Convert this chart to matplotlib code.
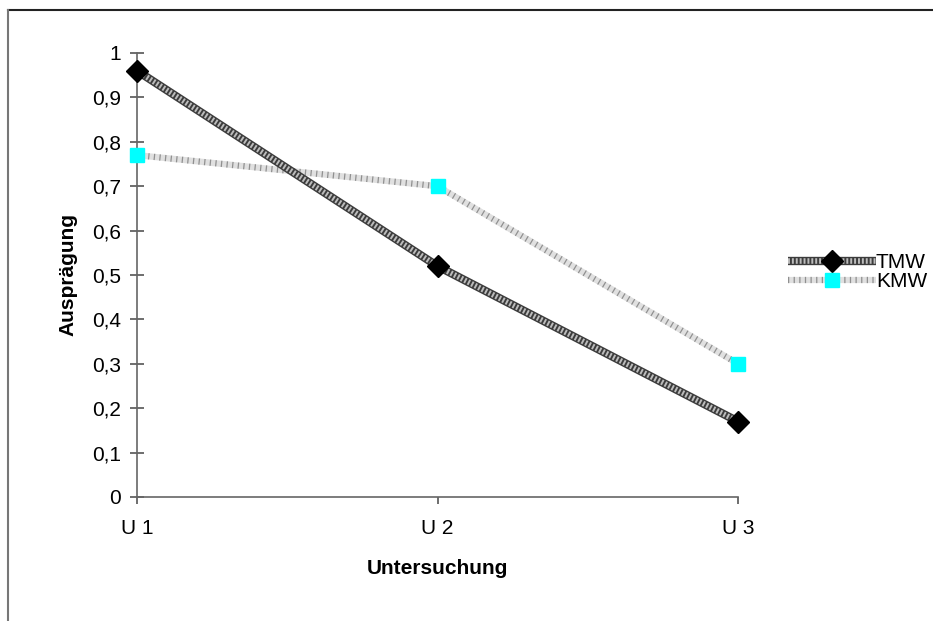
import numpy as np
import matplotlib.pyplot as plt
from matplotlib.lines import Line2D
from matplotlib.legend_handler import HandlerTuple

# DATA:
# ==================================================================
labels = ['U 1', 'U 2', 'U 3']
tmw    = [0.96, 0.52, 0.17]
kmw    = [0.77, 0.70, 0.30]
yticks = [0, 0.1, 0.2, 0.3, 0.4, 0.5, 0.6, 0.7, 0.8, 0.9, 1]

plt.rcParams['font.family'] = ['Liberation Sans', 'DejaVu Sans']

# MAKE PLOT:
# ==================================================================
fig = plt.figure(figsize=(9.33, 6.21), dpi=100)
ax  = fig.add_axes([137/933, 1-497/621, (738-137)/933, (497-53)/621])

x = np.arange(len(labels))

# TMW: hatched dark line
t1, = ax.plot(x, tmw, color='#3c3c3c', lw=6, solid_capstyle='butt', zorder=3, clip_on=False)
t2, = ax.plot(x, tmw, color='#bcbcbc', lw=4, ls=(0, (0.35, 0.35)), dash_capstyle='butt',
              zorder=3.1, clip_on=False)
t3, = ax.plot(x, tmw, ls='none', marker='D', ms=11, mfc='black', mec='black',
              zorder=4, clip_on=False)

# KMW: dotted light line
k1, = ax.plot(x, kmw, color='#e0e0e0', lw=4.5, solid_capstyle='butt', zorder=2, clip_on=False)
k2, = ax.plot(x, kmw, color='#909090', lw=4.5, ls=(0, (0.2, 0.7)), dash_capstyle='butt',
              zorder=2.1, clip_on=False)
k3, = ax.plot(x, kmw, ls='none', marker='s', ms=10.5, mfc='#00ffff', mec='#00ffff',
              zorder=4, clip_on=False)

ax.set_xlim(0, 2)
ax.set_ylim(0, 1)
ax.set_xticks(x)
ax.set_xticklabels(labels)
ax.set_yticks(yticks)
ax.set_yticklabels([('%g' % v).replace('.', ',') for v in yticks])
ax.tick_params(axis='both', labelsize=15, color='#555555', width=1.2)
ax.tick_params(axis='y', direction='inout', length=9.5, pad=7)
ax.tick_params(axis='x', direction='out', length=5, pad=11)

for s in ['top', 'right']:
    ax.spines[s].set_visible(False)
for s in ['left', 'bottom']:
    ax.spines[s].set_color('#666666')
    ax.spines[s].set_linewidth(1.2)

ax.set_xlabel('Untersuchung', fontsize=15, fontweight='bold', labelpad=15)
ax.set_ylabel('Ausprägung', fontsize=15, fontweight='bold', labelpad=10)

ax.legend([(t1, t2, t3), (k1, k2, k3)], ['TMW', 'KMW'],
          handler_map={tuple: HandlerTuple(ndivide=1, pad=0)},
          loc='center left', bbox_to_anchor=(1.07, 0.507), frameon=False,
          fontsize=15, handlelength=4.2, handletextpad=0.0, labelspacing=0.0,
          borderaxespad=0)

# FRAME:
fig.add_artist(Line2D([8/933, 1], [1-10/621, 1-10/621], color='#222222', lw=1.5))
fig.add_artist(Line2D([8/933, 8/933], [0, 1-10/621], color='#777777', lw=1.5))

fig.savefig('out.png', dpi=100)
